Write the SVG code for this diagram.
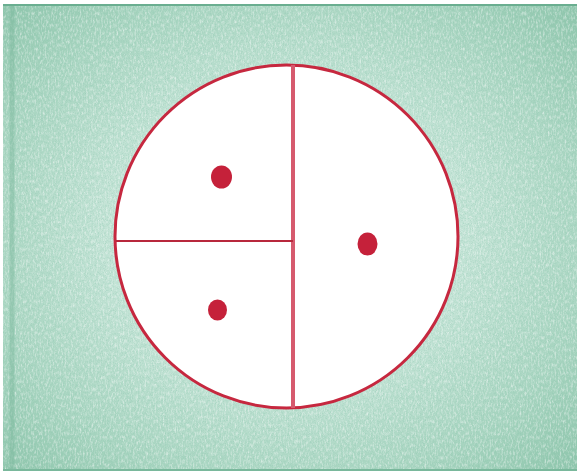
<svg xmlns="http://www.w3.org/2000/svg" width="579" height="474" viewBox="0 0 579 474">
  <defs>
    <radialGradient id="bg" cx="49.5%" cy="50%" r="72%">
      <stop offset="0" stop-color="#e4f3ec"/>
      <stop offset="0.42" stop-color="#c2e3d5"/>
      <stop offset="0.75" stop-color="#a6d4bf"/>
      <stop offset="1" stop-color="#8cc4aa"/>
    </radialGradient>
    <filter id="crayon" x="0" y="0" width="100%" height="100%">
      <feTurbulence type="fractalNoise" baseFrequency="0.6 0.25" numOctaves="3" seed="7" result="n"/>
      <feColorMatrix in="n" type="matrix" values="0 0 0 0 1  0 0 0 0 1  0 0 0 0 1  0 0 0 -2.2 1.25" result="w"/>
      <feComposite in="w" in2="SourceGraphic" operator="in"/>
    </filter>
    <filter id="grain" x="0" y="0" width="100%" height="100%">
      <feTurbulence type="fractalNoise" baseFrequency="1.4" numOctaves="1" seed="3" result="n"/>
      <feColorMatrix in="n" type="matrix" values="0 0 0 0 0.25  0 0 0 0 0.55  0 0 0 0 0.42  0 0 0 -3 1.6" result="g"/>
      <feComposite in="g" in2="SourceGraphic" operator="in"/>
    </filter>
    <style>
      .red { stroke: #c6283f; fill: none; }
      .dot { fill: #c5213a; }
    </style>
  </defs>
  <rect width="579" height="474" fill="#ffffff"/>
  <g id="background">
    <rect x="3" y="4" width="574" height="467" fill="url(#bg)"/>
    <rect x="3" y="4" width="574" height="467" fill="#ffffff" filter="url(#crayon)" opacity="0.5"/>
    <rect x="3" y="4" width="574" height="467" fill="#000000" filter="url(#grain)" opacity="0.35"/>
    <line x1="3" y1="5" x2="577" y2="5" stroke="#6aae90" stroke-width="2"/>
    <line x1="3" y1="470" x2="577" y2="470" stroke="#7ab89c" stroke-width="2"/>
    <line x1="12" y1="6" x2="12" y2="470" stroke="#7fbba0" stroke-width="5" opacity="0.5"/>
  </g>
  <g id="circle">
    <ellipse cx="286.5" cy="236.5" rx="171.5" ry="171.5" fill="#ffffff"/>
    <ellipse cx="286.5" cy="236.5" rx="171.5" ry="171.5" class="red" stroke-width="3"/>
  </g>
  <g id="lines">
    <line x1="293" y1="65" x2="293" y2="408" stroke="#d65a6e" stroke-width="4"/>
    <line x1="116" y1="241" x2="293" y2="241" stroke="#b8283c" stroke-width="2"/>
  </g>
  <g id="dots">
    <ellipse class="dot" cx="221.5" cy="177" rx="10.5" ry="11.5"/>
    <ellipse class="dot" cx="367.5" cy="244" rx="10" ry="11.5"/>
    <ellipse class="dot" cx="217.5" cy="310" rx="9.5" ry="10.5"/>
  </g>
</svg>
